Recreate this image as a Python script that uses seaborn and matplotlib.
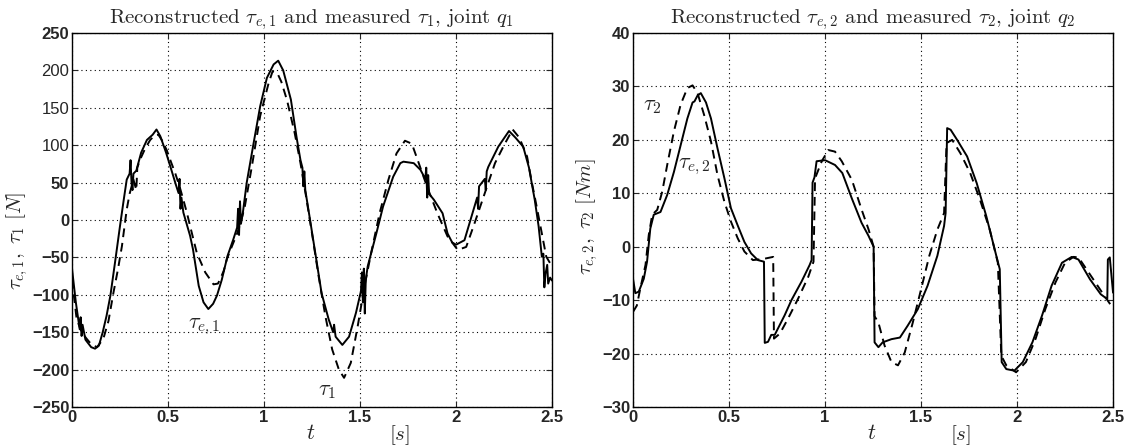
import numpy as np
import pandas as pd
import matplotlib
matplotlib.use("Agg")
import matplotlib.pyplot as plt
import seaborn as sns

sns.set_style("ticks")
plt.rcParams["font.family"] = ["Liberation Sans", "DejaVu Sans"]
plt.rcParams["mathtext.fontset"] = "cm"

# ---------------------------------------------------------------------------
# data (t in seconds)
# ---------------------------------------------------------------------------
# joint q1: reconstructed tau_e,1 (solid)
t_e1 = [0.0, 0.02, 0.04, 0.045, 0.05, 0.055, 0.07, 0.1, 0.12, 0.14, 0.16, 0.18, 0.2,
        0.225, 0.25, 0.27, 0.285, 0.3, 0.305, 0.31, 0.315, 0.32, 0.335, 0.36, 0.39,
        0.42, 0.44, 0.46, 0.49, 0.52, 0.54, 0.555, 0.56, 0.565, 0.57, 0.58, 0.615,
        0.63, 0.66, 0.685, 0.71, 0.735, 0.755, 0.78, 0.81, 0.84, 0.86, 0.865, 0.87,
        0.875, 0.88, 0.89, 0.91, 0.946, 0.98, 1.015, 1.05, 1.074, 1.1, 1.14, 1.17,
        1.19, 1.2, 1.205, 1.21, 1.215, 1.24, 1.267, 1.3, 1.337, 1.36, 1.365, 1.373,
        1.408, 1.443, 1.479, 1.505, 1.51, 1.515, 1.52, 1.525, 1.53, 1.54, 1.585,
        1.62, 1.673, 1.71, 1.726, 1.78, 1.815, 1.84, 1.845, 1.85, 1.855, 1.86, 1.885,
        1.93, 1.956, 1.98, 2.0, 2.044, 2.088, 2.11, 2.115, 2.12, 2.132, 2.15, 2.155,
        2.16, 2.168, 2.22, 2.276, 2.31, 2.35, 2.38, 2.41, 2.43, 2.447, 2.455, 2.46,
        2.466, 2.475, 2.48, 2.49, 2.5]
tau_e1 = [-65, -110, -146, -130, -155, -140, -160, -170, -172, -168, -150, -128, -101,
          -55, -8, 28, 54, 62, 80, 50, 40, 62, 66, 90, 107,
          114, 121, 112, 90, 65, 48, 36, 55, 15, 30, 10, -21,
          -39, -88, -110, -119, -112, -101, -80, -48, -26, -10, 15, -20,
          25, -5, 10, 50, 103, 152, 190, 208, 213, 200, 161, 110,
          80, 70, 45, 65, 40, 0, -44, -98, -133, -150, -140, -156,
          -167, -156, -124, -95, -70, -110, -65, -125, -80, -62, -18,
          18, 58, 76, 78, 76, 67, 55, 70, 30, 60, 35, 27,
          9, -18, -30, -33, -27, 11, 30, 15, 45, 49, 55, 40,
          65, 71, 98, 119, 110, 98, 70, 27, -8, -49, -45, -90,
          -72, -60, -85, -77, -81]

# joint q1: measured tau_1 (dashed)
t_m1 = [0.0, 0.024, 0.05, 0.077, 0.1, 0.13, 0.163, 0.19, 0.216, 0.24, 0.26, 0.285, 0.3,
        0.32, 0.335, 0.34, 0.355, 0.38, 0.407, 0.43, 0.45, 0.47, 0.494, 0.515, 0.537,
        0.56, 0.58, 0.6, 0.616, 0.65, 0.694, 0.737, 0.76, 0.772, 0.79, 0.807, 0.83,
        0.86, 0.88, 0.9, 0.937, 0.98, 1.024, 1.045, 1.07, 1.09, 1.12, 1.16, 1.19,
        1.22, 1.25, 1.285, 1.32, 1.355, 1.39, 1.417, 1.452, 1.488, 1.523, 1.558,
        1.602, 1.647, 1.69, 1.734, 1.77, 1.806, 1.85, 1.903, 1.956, 2.009, 2.053,
        2.097, 2.15, 2.203, 2.25, 2.295, 2.33, 2.37, 2.395, 2.42, 2.447, 2.47, 2.5]
tau_m1 = [-80, -132, -150, -159, -166, -170, -159, -135, -97, -65, -35, 14, 35,
          54, 40, 70, 81, 95, 107, 113, 114, 106, 93, 78, 63,
          45, 27, 8, -9, -44, -70, -86, -85, -79, -68, -52, -37,
          -18, -2, 18, 72, 139, 183, 199, 196, 185, 160, 116, 76,
          30, -18, -76, -129, -173, -200, -211, -191, -142, -89, -44,
          9, 53, 89, 106, 102, 76, 44, 9, -22, -40, -36,
          -4, 36, 76, 100, 121, 110, 85, 50, 18, -18, -49, -62]

# joint q2: reconstructed tau_e,2 (solid)
t_e2 = [0.0, 0.012, 0.03, 0.056, 0.073, 0.09, 0.108, 0.143, 0.178, 0.213, 0.248, 0.283,
        0.31, 0.32, 0.336, 0.353, 0.38, 0.406, 0.44, 0.476, 0.51, 0.545, 0.58, 0.615,
        0.65, 0.682, 0.686, 0.703, 0.72, 0.738, 0.79, 0.825, 0.878, 0.92, 0.93, 0.935,
        0.945, 0.956, 1.0, 1.052, 1.09, 1.14, 1.19, 1.227, 1.253, 1.258, 1.278, 1.3,
        1.346, 1.39, 1.43, 1.483, 1.534, 1.585, 1.62, 1.628, 1.636, 1.654, 1.688,
        1.74, 1.79, 1.84, 1.892, 1.91, 1.92, 1.944, 1.986, 2.03, 2.08, 2.13, 2.18,
        2.234, 2.285, 2.32, 2.38, 2.436, 2.47, 2.473, 2.483, 2.5]
tau_e2 = [-6, -8.7, -8.4, -6, -2.8, 3.4, 6, 6.5, 9.7, 14, 19, 24,
          27, 27.2, 28.3, 28.75, 27, 24, 18.4, 12.8, 7.2, 4, 0.9, -1.25,
          -2.5, -2.8, -18, -17.8, -16.5, -16.5, -12.8, -10, -6.5, -3.4, -2.5, 12,
          13, 16, 16.2, 15.3, 13.8, 9, 4.5, 2, 0, -17.9, -18.8, -17.9,
          -17.3, -17, -14.8, -11.7, -7.3, -1.7, 3.9, 6.3, 22.2, 21.9, 20,
          16.9, 11.9, 5.7, -1.7, -4.2, -21.6, -22.9, -23.2, -21.6, -17.9, -12.9, -7.3,
          -3, -1.9, -2.4, -6.1, -8.9, -9.8, -2.4, -2, -8.6]

# joint q2: measured tau_2 (dashed)
t_m2 = [0.0, 0.02, 0.038, 0.065, 0.082, 0.1, 0.126, 0.152, 0.178, 0.213, 0.248, 0.283,
        0.31, 0.336, 0.37, 0.406, 0.44, 0.476, 0.51, 0.545, 0.58, 0.624, 0.677, 0.73,
        0.734, 0.765, 0.808, 0.86, 0.913, 0.94, 0.948, 0.983, 1.017, 1.052, 1.087,
        1.14, 1.19, 1.227, 1.253, 1.258, 1.278, 1.31, 1.346, 1.38, 1.415, 1.457, 1.5,
        1.543, 1.585, 1.62, 1.633, 1.662, 1.705, 1.756, 1.807, 1.858, 1.9, 1.918,
        1.944, 1.995, 2.046, 2.097, 2.148, 2.2, 2.25, 2.294, 2.32, 2.397, 2.455,
        2.49, 2.5]
tau_m2 = [-12.2, -11, -7.8, -3.4, 2.2, 6, 6.9, 10.3, 15.3, 21.6, 26.6, 29.7,
          30.2, 28.75, 24.7, 19.7, 13.4, 8.4, 4.7, 1.6, -0.9, -2.5, -2.3, -1.9,
          -17.2, -16.25, -13.4, -9.7, -5.6, -2.8, 12.8, 16, 18.1, 17.8, 16,
          12.5, 7, 3.2, 0, -13, -14.2, -18.5, -21.6, -22.2, -19.8, -14.2, -8,
          -1.7, 3.2, 6.3, 19.4, 20, 17.5, 13.8, 8.8, 3.2, -3, -20.4,
          -22.2, -23.5, -21.6, -17.2, -11.6, -6.7, -3, -1.9, -2, -6.1, -9.2,
          -11, -11.5]

x_ticks = [0, 0.5, 1, 1.5, 2, 2.5]
x_ticklabels = ["0", "0.5", "1", "1.5", "2", "2.5"]

# ---------------------------------------------------------------------------
# figure
# ---------------------------------------------------------------------------
fig = plt.figure(figsize=(11.41, 4.48), dpi=100)
ax1 = fig.add_axes([0.0631, 0.0915, 0.4207, 0.8348])
ax2 = fig.add_axes([0.5548, 0.0915, 0.4207, 0.8348])

DASH = (0, (4.5, 3))
LW = 1.4


def draw(ax, t_sol, y_sol, t_das, y_das):
    sol = pd.DataFrame({"t": t_sol, "y": y_sol})
    das = pd.DataFrame({"t": t_das, "y": y_das})
    sns.lineplot(data=sol, x="t", y="y", ax=ax, color="black", lw=LW,
                 sort=False, estimator=None)
    sns.lineplot(data=das, x="t", y="y", ax=ax, color="black", lw=LW,
                 linestyle=DASH, sort=False, estimator=None)
    ax.set_xlim(0, 2.5)
    ax.set_xticks(x_ticks)
    ax.set_xticklabels(x_ticklabels)
    ax.set_xlabel("")
    ax.grid(True, color="black", linestyle=(0, (1, 3)), linewidth=0.8)
    ax.tick_params(direction="in", length=4, width=0.8, labelsize=12,
                   top=True, right=True, pad=2)
    for lab in ax.get_xticklabels() + ax.get_yticklabels():
        lab.set_fontweight("bold")
    for s in ax.spines.values():
        s.set_linewidth(1.0)
        s.set_color("black")
    ax.text(0.498, -0.07, "$t$", transform=ax.transAxes, fontsize=16,
            ha="center", va="center")
    ax.text(0.683, -0.075, "$[s]$", transform=ax.transAxes, fontsize=15,
            ha="center", va="center")


draw(ax1, t_e1, tau_e1, t_m1, tau_m1)
ax1.set_ylim(-250, 250)
ax1.set_yticks(np.arange(-250, 251, 50))
ax1.set_ylabel(r"$\tau_{e,1},\ \tau_1\ [N]$", fontsize=15)
ax1.yaxis.set_label_coords(-0.088, 0.445)
ax1.set_title(r"Reconstructed $\tau_{e,1}$ and measured $\tau_1$, joint $q_1$",
              fontsize=15, family="cmr10", pad=7)
ax1.text(0.69, -142, r"$\tau_{e,1}$", fontsize=16, ha="center", va="center")
ax1.text(1.33, -228, r"$\tau_1$", fontsize=16, ha="center", va="center")

draw(ax2, t_e2, tau_e2, t_m2, tau_m2)
ax2.set_ylim(-30, 40)
ax2.set_yticks(np.arange(-30, 41, 10))
ax2.set_ylabel(r"$\tau_{e,2},\ \tau_2\ [Nm]$", fontsize=15)
ax2.yaxis.set_label_coords(-0.068, 0.51)
ax2.set_title(r"Reconstructed $\tau_{e,2}$ and measured $\tau_2$, joint $q_2$",
              fontsize=15, family="cmr10", pad=7)
ax2.text(0.10, 26.5, r"$\tau_2$", fontsize=16, ha="center", va="center")
ax2.text(0.32, 15.0, r"$\tau_{e,2}$", fontsize=16, ha="center", va="center")

plt.savefig("out.png", dpi=100)
plt.close()
